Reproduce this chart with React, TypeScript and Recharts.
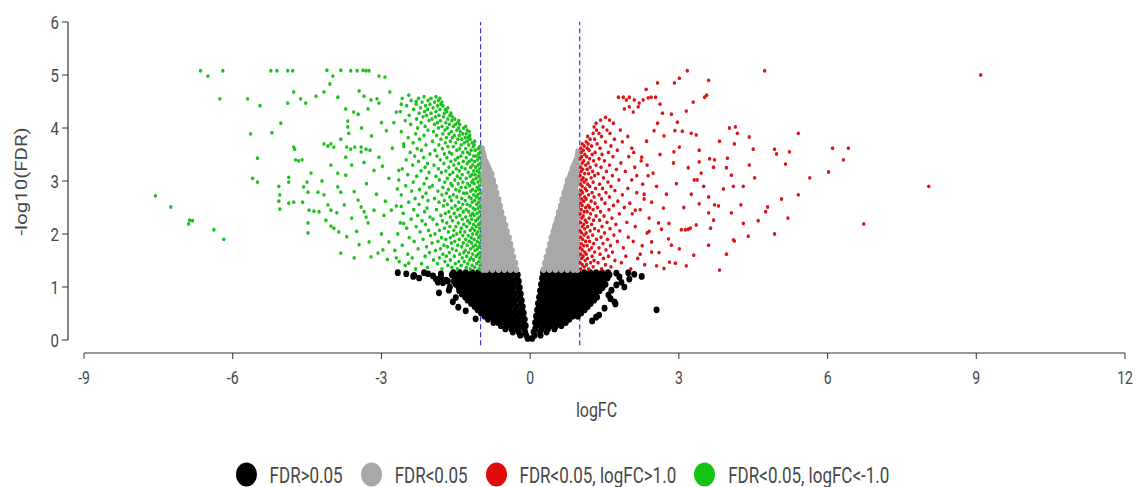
import { ReferenceLine, Scatter, ScatterChart, XAxis, YAxis } from "recharts";

const X_TICKS = [-9, -6, -3, 0, 3, 6, 9, 12];
const Y_TICKS = [0, 1, 2, 3, 4, 5, 6];
const X_MIN = -9.323;
const Y_MIN = -0.245;

const LEGEND = [
  { label: "FDR>0.05", color: "#000000" },
  { label: "FDR<0.05", color: "#a8a8a8" },
  { label: "FDR<0.05, logFC>1.0", color: "#e00b0b" },
  { label: "FDR<0.05, logFC<-1.0", color: "#14c414" },
];

// rows: [-log10(FDR), logFC, logFC, ...]
const blackRows: number[][] = [
  [0.03, -0.05, 0.04],
  [0.09, -0.08, -0.2, 0.09, 0.21],
  [0.15, -0.1, -0.23, -0.35, 0.07, 0.2, 0.33],
  [0.21, -0.12, -0.25, -0.38, -0.5, 0.1, 0.23, 0.36, 0.49],
  [0.27, -0.09, -0.2, -0.33, -0.46, -0.59, 0.13, 0.27, 0.4, 0.52, 0.63],
  [0.33, -0.14, -0.27, -0.4, -0.52, -0.65, -0.74, 0.1, 0.21, 0.34, 0.47, 0.6, 0.72],
  [0.39, -0.11, -0.23, -0.36, -0.48, -0.61, -0.73, -0.85, 0.14, 0.27, 0.4, 0.53, 0.66, 0.79],
  [0.45, -0.15, -0.29, -0.42, -0.55, -0.67, -0.8, -0.92, 0.12, 0.22, 0.35, 0.48, 0.61, 0.74, 0.86, 0.96],
  [0.51, -0.13, -0.24, -0.37, -0.5, -0.63, -0.76, -0.88, -0.99, 0.16, 0.29, 0.42, 0.55, 0.68, 0.8, 0.92, 1.03],
  [0.57, -0.17, -0.3, -0.43, -0.56, -0.69, -0.82, -0.95, -1.06, 0.14, 0.25, 0.37, 0.5, 0.63, 0.75, 0.87, 0.99, 1.1],
  [0.63, -0.15, -0.27, -0.4, -0.52, -0.64, -0.76, -0.89, -1.01, -1.12, 0.18, 0.31, 0.44, 0.57, 0.7, 0.82, 0.95, 1.07, 1.16],
  [0.69, -0.19, -0.33, -0.46, -0.58, -0.71, -0.84, -0.97, -1.09, -1.19, 0.16, 0.27, 0.39, 0.52, 0.64, 0.77, 0.9, 1.02, 1.14, 1.22],
  [0.75, -0.17, -0.29, -0.41, -0.54, -0.66, -0.79, -0.91, -1.04, -1.16, -1.26, 0.2, 0.33, 0.46, 0.58, 0.71, 0.84, 0.96, 1.09, 1.2, 1.29],
  [0.81, -0.21, -0.35, -0.48, -0.6, -0.73, -0.86, -0.98, -1.1, -1.22, -1.31, 0.18, 0.29, 0.41, 0.54, 0.66, 0.78, 0.91, 1.03, 1.15, 1.27, 1.35],
  [0.87, -0.19, -0.31, -0.43, -0.56, -0.68, -0.8, -0.93, -1.06, -1.18, -1.3, -1.38, 0.22, 0.35, 0.47, 0.6, 0.72, 0.85, 0.97, 1.1, 1.22, 1.33],
  [0.93, -0.23, -0.37, -0.5, -0.62, -0.74, -0.87, -0.99, -1.12, -1.24, -1.36, -1.43, 0.2, 0.31, 0.43, 0.56, 0.68, 0.8, 0.93, 1.05, 1.17, 1.29, 1.4],
  [0.99, -0.21, -0.33, -0.45, -0.58, -0.7, -0.82, -0.95, -1.07, -1.2, -1.32, -1.44, 0.24, 0.37, 0.49, 0.62, 0.74, 0.87, 0.99, 1.11, 1.23, 1.35, 1.46],
  [1.05, -0.25, -0.38, -0.51, -0.64, -0.76, -0.88, -1.0, -1.13, -1.26, -1.38, -1.5, 0.22, 0.33, 0.45, 0.58, 0.7, 0.82, 0.95, 1.07, 1.19, 1.31, 1.43, 1.52],
  [1.11, -0.23, -0.35, -0.47, -0.6, -0.72, -0.84, -0.97, -1.09, -1.21, -1.33, -1.45, -1.54, 0.26, 0.39, 0.51, 0.64, 0.76, 0.88, 1.0, 1.13, 1.25, 1.37, 1.49],
  [1.17, -0.27, -0.4, -0.53, -0.65, -0.78, -0.9, -1.03, -1.15, -1.28, -1.4, -1.52, 0.24, 0.35, 0.47, 0.6, 0.72, 0.85, 0.97, 1.09, 1.21, 1.33, 1.45, 1.56],
  [1.23, -0.25, -0.37, -0.49, -0.62, -0.74, -0.86, -0.99, -1.11, -1.24, -1.36, -1.48, -1.58, 0.28, 0.41, 0.53, 0.66, 0.78, 0.9, 1.03, 1.15, 1.27, 1.39, 1.5, 1.6],
  [1.27, -0.29, -0.43, -0.56, -0.68, -0.8, -0.93, -1.05, -1.17, -1.3, -1.42, -1.55, 0.26, 0.36, 0.47, 0.6, 0.72, 0.84, 0.97, 1.09, 1.21, 1.33, 1.45, 1.57],
];

// [logFC, -log10(FDR)]
const blackScatter: number[][] = [
  [-2.67, 1.27], [-2.34, 1.22], [-2.14, 1.27], [-1.96, 1.21], [-1.8, 1.25], [-2.36, 1.2],
  [-2.24, 1.17], [-2.06, 1.25], [-1.86, 1.09], [-1.8, 1.19], [-1.7, 1.13], [-1.84, 0.89],
  [-1.76, 1.08], [-1.66, 1.11], [-1.64, 0.94], [-1.56, 0.72], [-1.5, 0.8], [-1.3, 0.55],
  [-1.45, 0.62], [-1.62, 1.0], [-2.5, 1.25], [-1.1, 0.4], [-1.9, 1.15],
  [1.74, 1.26], [1.8, 1.19], [1.84, 1.09], [1.74, 1.04], [1.64, 0.94], [1.58, 0.85],
  [1.7, 0.72], [1.72, 0.68], [1.98, 1.27], [2.1, 1.24], [2.25, 1.2], [1.39, 0.47],
  [1.33, 0.43], [2.55, 0.57], [1.5, 0.6], [1.9, 1.0], [2.0, 1.15], [1.62, 0.78], [1.25, 0.36],
];

const grayRows: number[][] = [
  [1.33, -0.28, -0.4, -0.52, -0.64, -0.76, -0.88, -0.95, 0.27, 0.39, 0.51, 0.63, 0.75, 0.87, 0.95],
  [1.39, -0.34, -0.46, -0.58, -0.7, -0.82, -0.93, 0.33, 0.45, 0.57, 0.69, 0.81, 0.93],
  [1.45, -0.3, -0.41, -0.53, -0.65, -0.77, -0.89, -0.95, 0.3, 0.41, 0.53, 0.65, 0.77, 0.89, 0.95],
  [1.51, -0.36, -0.48, -0.6, -0.72, -0.84, -0.95, 0.35, 0.47, 0.59, 0.71, 0.83, 0.95],
  [1.57, -0.34, -0.45, -0.57, -0.69, -0.81, -0.92, 0.33, 0.44, 0.56, 0.68, 0.8, 0.91],
  [1.63, -0.39, -0.51, -0.63, -0.75, -0.87, -0.95, 0.38, 0.5, 0.62, 0.74, 0.86, 0.95],
  [1.69, -0.37, -0.48, -0.6, -0.72, -0.84, -0.94, 0.37, 0.47, 0.59, 0.71, 0.83, 0.94],
  [1.75, -0.42, -0.54, -0.66, -0.78, -0.9, 0.41, 0.53, 0.65, 0.77, 0.89],
  [1.81, -0.4, -0.51, -0.63, -0.75, -0.87, -0.95, 0.4, 0.5, 0.62, 0.74, 0.86, 0.95],
  [1.87, -0.45, -0.57, -0.69, -0.81, -0.93, 0.44, 0.56, 0.68, 0.8, 0.92],
  [1.93, -0.43, -0.54, -0.66, -0.78, -0.9, -0.95, 0.43, 0.53, 0.65, 0.77, 0.89, 0.95],
  [1.99, -0.48, -0.6, -0.72, -0.84, -0.95, 0.47, 0.59, 0.71, 0.83, 0.94],
  [2.05, -0.47, -0.57, -0.69, -0.81, -0.92, 0.47, 0.56, 0.68, 0.8, 0.92],
  [2.11, -0.52, -0.63, -0.75, -0.87, -0.95, 0.5, 0.62, 0.74, 0.86, 0.95],
  [2.17, -0.5, -0.6, -0.72, -0.84, -0.94, 0.51, 0.6, 0.72, 0.84, 0.94],
  [2.23, -0.55, -0.66, -0.78, -0.9, 0.54, 0.65, 0.77, 0.89],
  [2.29, -0.54, -0.63, -0.75, -0.86, -0.95, 0.55, 0.64, 0.75, 0.86, 0.95],
  [2.35, -0.59, -0.7, -0.81, -0.92, 0.58, 0.69, 0.8, 0.91],
  [2.41, -0.58, -0.67, -0.78, -0.89, -0.95, 0.58, 0.67, 0.78, 0.89, 0.95],
  [2.47, -0.62, -0.73, -0.84, -0.94, 0.62, 0.72, 0.83, 0.94],
  [2.53, -0.61, -0.7, -0.81, -0.91, 0.62, 0.71, 0.81, 0.91],
  [2.59, -0.65, -0.76, -0.87, -0.95, 0.66, 0.76, 0.86, 0.95],
  [2.65, -0.64, -0.73, -0.84, -0.94, 0.65, 0.74, 0.84, 0.94],
  [2.71, -0.69, -0.79, -0.9, 0.69, 0.79, 0.9],
  [2.77, -0.68, -0.77, -0.87, -0.95, 0.69, 0.78, 0.88, 0.95],
  [2.83, -0.72, -0.82, -0.92, 0.72, 0.82, 0.92],
  [2.89, -0.71, -0.8, -0.9, 0.73, 0.82, 0.91],
  [2.95, -0.75, -0.85, -0.95, 0.76, 0.86, 0.95],
  [3.01, -0.75, -0.84, -0.93, 0.76, 0.85, 0.94],
  [3.07, -0.79, -0.88, -0.95, 0.8, 0.89, 0.95],
  [3.13, -0.78, -0.87, -0.95, 0.82, 0.9],
  [3.19, -0.82, -0.91, 0.85, 0.94],
  [3.25, -0.84, -0.93, 0.86, 0.93],
  [3.31, -0.87, -0.95, 0.89, 0.95],
  [3.37, -0.9, -0.95, 0.92],
  [3.43, -0.93, 0.95],
  [3.49, -0.94, 0.96],
  [3.55, -0.96, 0.97],
  [3.61, -0.97],
];

const greenRows: number[][] = [
  [1.34, -1.03, -1.21, -1.47, -1.78, -2.31],
  [1.37, -1.12, -1.29, -1.58, -2.07],
  [1.41, -1.01, -1.17, -1.39, -1.66, -2.52],
  [1.44, -1.08, -1.26, -1.51, -1.87, -2.19],
  [1.48, -1.04, -1.33, -1.44, -1.72, -2.64],
  [1.51, -1.14, -1.22, -1.61, -1.95],
  [1.55, -1.02, -1.19, -1.37, -1.83, -2.38],
  [1.58, -1.09, -1.28, -1.53, -1.69, -2.12],
  [1.62, -1.05, -1.16, -1.42, -1.76, -2.47],
  [1.65, -1.01, -1.24, -1.34, -1.63, -2.03],
  [1.69, -1.11, -1.31, -1.49, -1.91, -2.73],
  [1.72, -1.06, -1.2, -1.57, -1.81, -2.26],
  [1.76, -1.03, -1.15, -1.38, -1.67, -2.09],
  [1.79, -1.1, -1.27, -1.46, -1.74, -2.58],
  [1.83, -1.02, -1.18, -1.35, -1.59, -1.98],
  [1.86, -1.07, -1.23, -1.52, -1.86, -2.34],
  [1.9, -1.13, -1.3, -1.43, -1.7, -2.16],
  [1.93, -1.04, -1.19, -1.61, -1.79, -2.44],
  [1.97, -1.01, -1.25, -1.36, -1.55, -2.01],
  [2.0, -1.08, -1.16, -1.48, -1.92, -2.67],
  [2.04, -1.05, -1.32, -1.41, -1.65, -2.22],
  [2.07, -1.12, -1.21, -1.54, -1.83, -2.05],
  [2.11, -1.02, -1.17, -1.39, -1.73, -2.49],
  [2.14, -1.09, -1.28, -1.5, -1.62, -2.3],
  [2.18, -1.04, -1.14, -1.34, -1.88, -2.11],
  [2.21, -1.01, -1.22, -1.45, -1.68, -2.62],
  [2.25, -1.1, -1.26, -1.57, -1.77, -2.18],
  [2.28, -1.06, -1.18, -1.37, -1.96, -2.4],
  [2.32, -1.03, -1.3, -1.49, -1.61, -2.02],
  [2.35, -1.13, -1.2, -1.42, -1.8, -2.27],
  [2.39, -1.07, -1.16, -1.53, -1.71, -2.56],
  [2.42, -1.02, -1.24, -1.35, -1.64, -2.13],
  [2.46, -1.11, -1.29, -1.46, -1.89, -2.35],
  [2.49, -1.05, -1.15, -1.4, -1.58, -2.08],
  [2.53, -1.01, -1.21, -1.51, -1.75, -2.7],
  [2.56, -1.08, -1.27, -1.36, -1.67, -2.24],
  [2.6, -1.04, -1.17, -1.44, -1.84, -2.45],
  [2.63, -1.12, -1.31, -1.59, -1.73, -2.06],
  [2.67, -1.03, -1.19, -1.38, -1.93, -2.32],
  [2.7, -1.09, -1.23, -1.48, -1.62, -2.17],
  [2.74, -1.06, -1.14, -1.55, -1.78, -2.6],
  [2.77, -1.01, -1.28, -1.34, -1.69, -2.1],
  [2.81, -1.1, -1.2, -1.43, -1.86, -2.39],
  [2.84, -1.04, -1.16, -1.5, -1.65, -2.23],
  [2.88, -1.07, -1.3, -1.39, -1.76, -2.03],
  [2.91, -1.02, -1.22, -1.57, -1.97, -2.51],
  [2.95, -1.13, -1.26, -1.45, -1.6, -2.14],
  [2.98, -1.05, -1.18, -1.36, -1.72, -2.36],
  [3.02, -1.01, -1.15, -1.52, -1.83, -2.65],
  [3.05, -1.09, -1.29, -1.41, -1.67, -2.09],
  [3.09, -1.04, -1.21, -1.47, -1.9, -2.29],
  [3.12, -1.11, -1.17, -1.37, -1.62, -2.47],
  [3.16, -1.03, -1.25, -1.56, -1.79, -2.04],
  [3.19, -1.07, -1.14, -1.43, -1.7, -2.2],
  [3.23, -1.02, -1.31, -1.49, -1.85, -2.58],
  [3.26, -1.1, -1.2, -1.38, -1.64, -2.12],
  [3.3, -1.05, -1.16, -1.54, -1.94, -2.37],
  [3.33, -1.01, -1.27, -1.44, -1.74, -2.07],
  [3.37, -1.12, -1.23, -1.35, -1.6, -2.25],
  [3.4, -1.06, -1.18, -1.51, -1.81, -2.5],
  [3.44, -1.03, -1.29, -1.46, -1.68, -2.15],
  [3.47, -1.09, -1.14, -1.4, -1.88, -2.33],
  [3.51, -1.04, -1.22, -1.58, -1.73, -2.02],
  [3.54, -1.01, -1.26, -1.36, -1.63, -2.42],
  [3.58, -1.11, -1.19, -1.48, -1.92, -2.19],
  [3.61, -1.05, -1.3, -1.42, -1.77, -2.28],
  [3.65, -1.02, -1.15, -1.55, -1.66, -2.55],
  [3.68, -1.13, -1.24, -1.39, -1.84, -2.1],
  [3.72, -1.17, -1.33, -1.5, -1.71, -2.36],
  [3.75, -1.12, -1.27, -1.61, -1.97],
  [3.79, -1.21, -1.38, -1.46, -1.8, -2.23],
  [3.82, -1.25, -1.31, -1.57, -1.69, -2.46],
  [3.86, -1.22, -1.43, -1.53, -1.89, -2.14],
  [3.89, -1.29, -1.36, -1.64, -1.76, -2.31],
  [3.93, -1.23, -1.41, -1.59, -1.95, -2.6],
  [3.96, -1.27, -1.48, -1.72, -2.06],
  [4.0, -1.34, -1.44, -1.67, -1.85, -2.27],
  [4.03, -1.3, -1.55, -1.78, -2.12],
  [4.07, -1.42, -1.51, -1.63, -1.93, -2.41],
  [4.1, -1.46, -1.7, -1.87, -2.2],
  [4.14, -1.44, -1.58, -1.81, -2.04, -2.52],
  [4.17, -1.52, -1.66, -1.98, -2.29],
  [4.21, -1.57, -1.75, -1.91, -2.16],
  [4.24, -1.62, -1.84, -2.09, -2.44],
  [4.28, -1.6, -1.73, -2.0, -2.24],
  [4.31, -1.68, -1.9, -2.13, -2.62],
  [4.35, -1.71, -1.82, -2.07, -2.35],
  [4.38, -1.66, -1.96, -2.21],
  [4.42, -1.76, -1.87, -2.11, -2.49],
  [4.45, -1.8, -2.02, -2.3],
  [4.49, -1.78, -1.93, -2.18],
  [4.52, -1.85, -2.06, -2.4],
  [4.56, -1.82, -2.0, -2.25, -2.58],
  [4.59, -1.9, -2.14],
];

const greenScatter: number[][] = [
  [-6.65, 5.08], [-6.5, 4.98], [-6.2, 5.08], [-5.23, 5.08], [-5.11, 5.08], [-4.89, 5.08],
  [-4.79, 5.08], [-4.1, 5.09], [-3.98, 4.98], [-3.82, 5.09], [-3.62, 5.08], [-3.49, 5.08],
  [-3.37, 5.09], [-3.31, 5.08], [-3.25, 5.08], [-3.05, 4.98], [-2.93, 4.96],
  [-7.56, 2.72], [-7.25, 2.51], [-6.87, 2.26], [-6.81, 2.25], [-6.89, 2.19], [-6.38, 2.08],
  [-6.18, 1.9], [-6.26, 4.55], [-5.7, 4.55], [-5.45, 4.42], [-5.64, 3.89], [-5.21, 3.91],
  [-5.03, 4.09], [-5.5, 3.43], [-5.6, 3.05], [-5.5, 2.98], [-5.07, 2.9], [-5.05, 2.74],
  [-5.07, 2.62], [-5.05, 2.47], [-4.87, 2.58], [-4.77, 2.6], [-4.87, 3.07], [-4.87, 2.98],
  [-4.77, 4.68], [-4.89, 4.47], [-4.77, 3.64], [-4.75, 3.6], [-4.73, 3.4], [-4.67, 3.38],
  [-4.6, 3.4], [-4.63, 4.55], [-4.53, 4.47], [-4.32, 4.6], [-4.16, 4.68], [-4.04, 4.83],
  [-3.88, 4.58], [-3.72, 4.36], [-3.56, 4.3], [-3.47, 4.26], [-3.45, 4.7], [-3.35, 4.6],
  [-3.27, 4.36], [-3.21, 4.53], [-3.09, 4.55], [-3.05, 4.47], [-2.83, 4.68], [-3.68, 4.13],
  [-3.68, 4.02], [-3.66, 3.9], [-3.82, 3.79], [-4.16, 3.7], [-4.08, 3.66], [-4.02, 3.7],
  [-3.96, 3.64], [-3.7, 3.64], [-3.62, 3.6], [-3.54, 3.64], [-3.41, 3.64], [-3.41, 3.55],
  [-3.31, 3.6], [-3.23, 3.58], [-4.02, 3.3], [-3.72, 3.45], [-3.88, 3.15], [-3.72, 3.11],
  [-4.42, 3.15], [-4.5, 2.98], [-4.57, 2.89], [-4.48, 2.79], [-4.28, 2.79], [-4.16, 2.74],
  [-3.88, 2.89], [-3.82, 2.79], [-4.59, 2.6], [-4.46, 2.45], [-4.36, 2.43], [-4.26, 2.42],
  [-4.48, 2.21], [-4.48, 2.02], [-4.08, 2.55], [-4.02, 2.45], [-4.12, 2.26], [-4.02, 2.15],
  [-3.96, 2.11], [-3.86, 2.04], [-3.82, 1.64], [-3.47, 2.64], [-3.41, 2.51], [-3.35, 2.42],
  [-3.31, 2.32], [-3.27, 2.21], [-3.21, 1.57], [-3.07, 1.64], [-2.97, 1.7],
  [-3.15, 3.2], [-3.3, 2.95], [-3.55, 2.8], [-3.1, 2.75], [-3.6, 3.3], [-3.2, 3.85],
  [-3.4, 4.0], [-3.0, 4.1], [-2.9, 3.95], [-3.15, 2.45], [-3.5, 2.05], [-3.25, 1.85],
  [-3.6, 2.3], [-3.05, 3.45], [-2.95, 2.35], [-3.35, 3.35], [-3.75, 2.55], [-3.0, 2.0],
  [-3.45, 1.8], [-2.85, 1.85], [-2.7, 4.3], [-2.6, 4.45], [-2.45, 4.62], [-2.3, 4.5],
  [-2.75, 4.1], [-2.55, 3.7], [-2.65, 3.2], [-2.85, 3.05], [-2.55, 2.2], [-2.7, 1.55],
  [-2.45, 1.45], [-2.8, 2.45], [-3.9, 2.4], [-4.2, 3.0], [-3.7, 1.95], [-3.55, 1.55],
  [-2.78, 3.62], [-2.92, 2.62], [-2.68, 2.85], [-2.98, 3.28], [-2.6, 2.52], [-2.88, 1.52],
];

const redRows: number[][] = [
  [1.34, 1.02, 1.18, 1.44, 2.03],
  [1.38, 1.09, 1.27, 1.63],
  [1.42, 1.05, 1.14, 1.52, 2.31],
  [1.46, 1.01, 1.22, 1.37, 1.84],
  [1.5, 1.11, 1.29, 1.71],
  [1.54, 1.04, 1.16, 1.48, 2.17],
  [1.58, 1.07, 1.25, 1.58, 1.93],
  [1.62, 1.02, 1.13, 1.41],
  [1.66, 1.1, 1.3, 1.66, 2.45],
  [1.7, 1.05, 1.19, 1.53],
  [1.74, 1.01, 1.24, 1.39, 1.88],
  [1.78, 1.08, 1.15, 1.62, 2.26],
  [1.82, 1.03, 1.28, 1.47],
  [1.86, 1.12, 1.2, 1.76, 2.08],
  [1.9, 1.06, 1.34, 1.56],
  [1.94, 1.02, 1.17, 1.43, 1.98],
  [1.98, 1.09, 1.26, 1.69],
  [2.02, 1.04, 1.13, 1.5, 2.36],
  [2.06, 1.01, 1.21, 1.38, 1.81],
  [2.1, 1.1, 1.3, 1.61],
  [2.14, 1.05, 1.16, 1.45, 2.12],
  [2.18, 1.08, 1.24, 1.73],
  [2.22, 1.02, 1.14, 1.55, 1.95],
  [2.26, 1.11, 1.28, 1.4],
  [2.3, 1.04, 1.19, 1.65, 2.4],
  [2.34, 1.07, 1.33, 1.49],
  [2.38, 1.01, 1.22, 1.8, 2.06],
  [2.42, 1.09, 1.15, 1.42],
  [2.46, 1.03, 1.27, 1.59, 2.22],
  [2.5, 1.12, 1.2, 1.36, 1.9],
  [2.54, 1.05, 1.17, 1.68],
  [2.58, 1.02, 1.31, 1.51, 2.01],
  [2.62, 1.08, 1.23, 1.77],
  [2.66, 1.04, 1.13, 1.44, 2.3],
  [2.7, 1.1, 1.29, 1.6],
  [2.74, 1.01, 1.18, 1.39, 1.86],
  [2.78, 1.06, 1.25, 1.53, 2.15],
  [2.82, 1.03, 1.14, 1.71],
  [2.86, 1.11, 1.32, 1.46, 1.97],
  [2.9, 1.05, 1.2, 1.63],
  [2.94, 1.02, 1.16, 1.4, 2.27],
  [2.98, 1.09, 1.27, 1.57],
  [3.02, 1.04, 1.13, 1.79, 2.05],
  [3.06, 1.07, 1.23, 1.48],
  [3.1, 1.01, 1.3, 1.66, 2.38],
  [3.14, 1.1, 1.18, 1.37],
  [3.18, 1.03, 1.26, 1.54, 1.92],
  [3.22, 1.06, 1.15, 1.74],
  [3.26, 1.02, 1.21, 1.43, 2.11],
  [3.3, 1.12, 1.33, 1.6],
  [3.34, 1.05, 1.17, 1.83],
  [3.38, 1.08, 1.28, 1.5, 2.24],
  [3.42, 1.01, 1.2, 1.39],
  [3.46, 1.04, 1.14, 1.67, 1.99],
  [3.5, 1.1, 1.25, 1.45],
  [3.54, 1.03, 1.31, 1.58, 2.09],
  [3.58, 1.07, 1.19, 1.76],
  [3.62, 1.02, 1.15, 1.41],
  [3.66, 1.09, 1.24, 1.63],
  [3.7, 1.05, 1.17, 1.35],
  [3.74, 1.13, 1.52, 1.86],
  [3.79, 1.21, 1.3, 1.7],
  [3.84, 1.16, 1.44, 1.97],
  [3.9, 1.27, 1.39, 1.61],
  [3.96, 1.34, 1.55, 1.82],
  [4.02, 1.29, 1.47],
  [4.09, 1.33, 1.68],
  [4.15, 1.42, 1.6],
  [4.2, 1.52],
];

const redScatter: number[][] = [
  [3.17, 5.08], [4.73, 5.08], [9.09, 5.0], [3.01, 4.94], [2.91, 4.85], [3.6, 4.9],
  [2.57, 4.85], [2.34, 4.73], [3.52, 4.58], [3.56, 4.62], [1.78, 4.58], [1.88, 4.58],
  [1.94, 4.53], [2.0, 4.58], [2.1, 4.53], [2.2, 4.47], [2.28, 4.53], [2.38, 4.57],
  [2.44, 4.58], [2.53, 4.58], [1.9, 4.36], [2.0, 4.4], [2.08, 4.3], [2.18, 4.4],
  [2.57, 4.09], [2.67, 4.28], [2.85, 4.26], [2.97, 4.11], [3.15, 4.32], [3.29, 4.49],
  [3.07, 3.94], [3.25, 3.9], [3.35, 3.87], [4.02, 4.0], [4.14, 4.02], [4.18, 3.9],
  [4.42, 3.83], [3.82, 3.75], [4.12, 3.7], [5.41, 3.9], [4.93, 3.6], [4.97, 3.51],
  [5.23, 3.55], [6.1, 3.62], [6.42, 3.62], [6.32, 3.4], [6.02, 3.17], [5.64, 3.06],
  [8.04, 2.9], [6.73, 2.19], [5.41, 2.74], [5.07, 2.66], [4.93, 2.0], [4.75, 2.42],
  [4.79, 2.51], [4.53, 3.06], [5.15, 3.32], [4.1, 2.9], [4.06, 3.11], [3.96, 3.25],
  [3.98, 3.43], [3.62, 3.42], [3.72, 3.4], [3.7, 3.26], [3.41, 3.58], [3.41, 3.36],
  [3.31, 3.02], [3.37, 3.02], [3.19, 3.25], [3.01, 3.64], [2.89, 3.34], [3.6, 2.7],
  [3.72, 2.55], [3.8, 2.53], [4.06, 2.4], [3.6, 2.4], [3.7, 2.26], [3.41, 2.57],
  [3.64, 2.11], [3.6, 1.79], [4.1, 1.89], [4.12, 1.87], [3.96, 1.62], [3.82, 1.32],
  [3.35, 2.17], [3.23, 2.11], [3.05, 2.08], [3.13, 2.08], [3.19, 2.09], [3.01, 1.72],
  [2.93, 1.45], [2.81, 1.47], [2.85, 1.79], [2.79, 1.91], [2.65, 2.09], [2.59, 2.21],
  [2.69, 2.49], [2.55, 2.9], [2.62, 3.5], [2.48, 3.15], [2.75, 2.75], [2.45, 2.6],
  [2.7, 3.85], [2.5, 3.95], [2.9, 3.55], [2.6, 1.65], [2.45, 1.85], [2.95, 2.95],
  [2.8, 2.2], [2.55, 1.4], [2.7, 1.35], [2.35, 3.75], [2.25, 3.45], [2.4, 2.05],
  [3.1, 2.5], [3.25, 2.75], [2.92, 3.95], [2.62, 4.45], [3.45, 3.15], [3.5, 2.9],
  [3.9, 2.85], [4.25, 2.55], [4.4, 1.96], [4.6, 2.25], [4.42, 3.3], [4.5, 3.6],
  [3.3, 1.6], [3.15, 1.4], [4.3, 2.9], [4.3, 2.2], [5.2, 2.3],
  [2.15, 3.1], [2.3, 2.75], [2.12, 2.45], [2.22, 1.62], [2.36, 3.3], [2.05, 3.62],
];

function fromRows(rows: number[][]) {
  return rows.flatMap(([y, ...xs]) => xs.map((x) => ({ x, y })));
}

function fromPairs(pairs: number[][]) {
  return pairs.map(([x, y]) => ({ x, y }));
}

const blackData = [...fromRows(blackRows), ...fromPairs(blackScatter)];
const grayData = fromRows(grayRows);
const redData = [...fromRows(redRows), ...fromPairs(redScatter)];
const greenData = [...fromRows(greenRows), ...fromPairs(greenScatter)];

// the source picture is stretched vertically, so dots and glyphs are a bit tall
const STRETCH = 1.28;

function dot(color: string, r: number) {
  return (props: any) => (
    <ellipse cx={props.cx} cy={props.cy} rx={r} ry={r * 1.12} fill={color} />
  );
}

const AXIS_TEXT = "#474747";
const CUTOFF_COLOR = "#3535d2";

function XTick(props: any) {
  const { x, y, payload } = props;
  return (
    <g transform={`translate(${x},${y + 17})`}>
      <text
        textAnchor="middle"
        dominantBaseline="central"
        transform={`scale(1,${STRETCH})`}
        fill={AXIS_TEXT}
        fontSize={14}
      >
        {payload.value}
      </text>
    </g>
  );
}

function YTick(props: any) {
  const { x, y, payload } = props;
  return (
    <g transform={`translate(${x - 1},${y})`}>
      <text
        textAnchor="end"
        dominantBaseline="central"
        transform={`scale(1,${STRETCH})`}
        fill={AXIS_TEXT}
        fontSize={15}
      >
        {payload.value}
      </text>
    </g>
  );
}

export default function App() {
  return (
    <div
      style={{
        position: "relative",
        width: 1137,
        height: 487,
        background: "#ffffff",
        fontFamily: "Roboto, sans-serif",
      }}
    >
      <style>{"body{margin:0}"}</style>
      <ScatterChart
        width={1137}
        height={487}
        margin={{ top: 22, right: 12, bottom: 0, left: 8 }}
      >
        <XAxis
          type="number"
          dataKey="x"
          domain={[X_MIN, 12]}
          ticks={X_TICKS}
          interval={0}
          height={134}
          axisLine={false}
          tickLine={{ stroke: "#333" }}
          tickSize={6}
          tick={<XTick />}
          label={{
            content: (p: any) => {
              const vb = p.viewBox ?? { x: 68, y: 353, width: 1057, height: 134 };
              const cx = vb.x + vb.width / 2;
              const cy = vb.y + 57;
              return (
                <g transform={`translate(${cx},${cy})`}>
                  <text
                    textAnchor="middle"
                    dominantBaseline="central"
                    transform={`scale(1,${STRETCH})`}
                    fill={AXIS_TEXT}
                    fontSize={16}
                  >
                    logFC
                  </text>
                </g>
              );
            },
          }}
        />
        <YAxis
          type="number"
          dataKey="y"
          domain={[Y_MIN, 6]}
          ticks={Y_TICKS}
          interval={0}
          width={60}
          axisLine={false}
          tickLine={{ stroke: "#333" }}
          tickSize={6}
          tick={<YTick />}
          label={{
            content: (p: any) => {
              const vb = p.viewBox ?? { x: 8, y: 22, width: 60, height: 331 };
              const cx = vb.x + 13;
              const cy = vb.y + vb.height / 2 - 6;
              return (
                <g transform={`translate(${cx},${cy}) rotate(-90)`}>
                  <text
                    textAnchor="middle"
                    dominantBaseline="central"
                    transform={`scale(${STRETCH},1)`}
                    fill={AXIS_TEXT}
                    fontSize={16}
                  >
                    -log10(FDR)
                  </text>
                </g>
              );
            },
          }}
        />
        <Scatter data={blackData} shape={dot("#000000", 3)} isAnimationActive={false} />
        <Scatter data={grayData} shape={dot("#a8a8a8", 3)} isAnimationActive={false} />
        <Scatter data={redData} shape={dot("#dc1414", 1.7)} isAnimationActive={false} />
        <Scatter data={greenData} shape={dot("#1cc21c", 1.7)} isAnimationActive={false} />
        <ReferenceLine
          segment={[{ x: X_MIN, y: 0 }, { x: X_MIN, y: 6 }]}
          stroke="#333"
          strokeWidth={1.2}
        />
        <ReferenceLine
          segment={[{ x: -9, y: Y_MIN }, { x: 12, y: Y_MIN }]}
          stroke="#333"
          strokeWidth={1.2}
        />
        <ReferenceLine
          segment={[{ x: -1, y: -0.1 }, { x: -1, y: 6 }]}
          stroke={CUTOFF_COLOR}
          strokeDasharray="5 3"
          strokeWidth={1.2}
        />
        <ReferenceLine
          segment={[{ x: 1, y: -0.1 }, { x: 1, y: 6 }]}
          stroke={CUTOFF_COLOR}
          strokeDasharray="5 3"
          strokeWidth={1.2}
        />
      </ScatterChart>
      <div
        style={{
          position: "absolute",
          left: -6,
          top: 462,
          width: 1137,
          display: "flex",
          justifyContent: "center",
          alignItems: "center",
          gap: 18,
          fontSize: 17,
          color: AXIS_TEXT,
        }}
      >
        {LEGEND.map((item) => (
          <div key={item.label} style={{ display: "flex", alignItems: "center", gap: 13 }}>
            <svg width={21} height={25}>
              <ellipse cx={10.5} cy={12.5} rx={10.5} ry={12} fill={item.color} />
            </svg>
            <span style={{ display: "inline-block", transform: `scaleY(${STRETCH})` }}>
              {item.label}
            </span>
          </div>
        ))}
      </div>
    </div>
  );
}
